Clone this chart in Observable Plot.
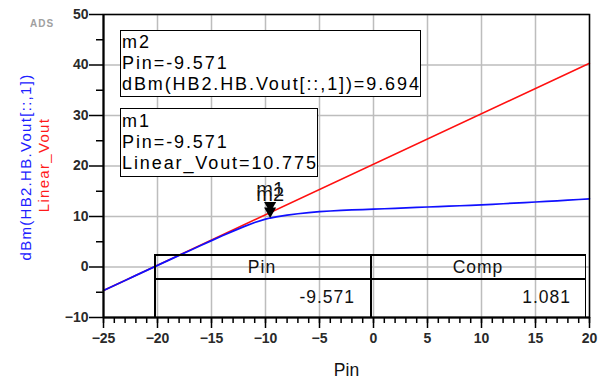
<!DOCTYPE html>
<html>
<head>
<meta charset="utf-8">
<script src="https://cdn.jsdelivr.net/npm/d3@7"></script>
<script src="https://cdn.jsdelivr.net/npm/@observablehq/plot@0.6"></script>
<style>
  html, body { margin: 0; padding: 0; background: #fff; }
  #wrap { position: relative; width: 600px; height: 383px; overflow: hidden; font-family: Arial, "Liberation Sans", sans-serif; }
  #wrap svg { position: absolute; left: 0; top: 0; }
  .box { position: absolute; box-sizing: border-box; border: 1.5px solid #000; background: #fff; font-size: 18px; line-height: 21px; letter-spacing: 1.9px; color: #000; padding-left: 1px; white-space: nowrap; }
  .tline { position: absolute; background: #000; }
  .tcell { position: absolute; font-size: 17.5px; letter-spacing: 1px; color: #111; white-space: nowrap; line-height: 1; }
  .ylab { position: absolute; transform: translate(-50%, -50%) rotate(-90deg); font-size: 15px; letter-spacing: 1.3px; line-height: 1; white-space: nowrap; }
  #ads { position: absolute; left: 30px; top: 18px; font-size: 10px; font-weight: bold; color: #a0a0a0; letter-spacing: 1px; }
</style>
</head>
<body>
<div id="wrap"></div>
<script>
// ---- data ----
const pin = [-25,-24,-23,-22,-21,-20,-19,-18,-17,-16,-15,-14,-13,-12,-11,-10,-9.571,-9,-8,-7,-6,-5,-4,-3,-2,-1,0,1,2,3,4,5,6,7,8,9,10,11,12,13,14,15,16,17,18,19,20];
const voutDbm = [-4.65,-3.65,-2.66,-1.66,-0.67,0.32,1.31,2.30,3.28,4.25,5.22,6.17,7.10,7.99,8.80,9.48,9.694,9.93,10.28,10.55,10.77,10.95,11.09,11.21,11.31,11.38,11.45,11.53,11.62,11.70,11.79,11.88,11.96,12.05,12.13,12.21,12.30,12.41,12.53,12.64,12.76,12.87,12.99,13.11,13.24,13.37,13.50];
const linPin = [-25, 20];
const linearVout = [-4.654, 40.346];
const markerNames = ["m1", "m2"];
const markerPin = [-9.571, -9.571];
const markerVal = [10.775, 9.694];
const xMajor = [-25,-20,-15,-10,-5,0,5,10,15,20];
const xMinor = d3.range(-25, 21, 1);
const yMajor = [-10,0,10,20,30,40,50];
const yMinor = [-5,5,15,25,35,45];
const tableHeaders = ["Pin", "Comp"];
const tableValues = ["-9.571", "1.081"];

const blue = pin.map((p, i) => ({x: p, y: voutDbm[i]}));
const red = linPin.map((p, i) => ({x: p, y: linearVout[i]}));
const markers = markerNames.map((n, i) => ({name: n, x: markerPin[i], y: markerVal[i]}));

const chart = Plot.plot({
  width: 600,
  height: 383,
  marginLeft: 103,
  marginRight: 11,
  marginTop: 14,
  marginBottom: 66,
  style: {fontFamily: "Arial, 'Liberation Sans', sans-serif", color: "#222", background: "transparent", overflow: "visible"},
  x: {domain: [-25, 20]},
  y: {domain: [-10, 50]},
  marks: [
    Plot.gridX(xMajor, {stroke: "#bdbdbd", strokeOpacity: 1, strokeWidth: 1.5}),
    Plot.gridY(yMajor, {stroke: "#bdbdbd", strokeOpacity: 1, strokeWidth: 1.5}),
    Plot.axisX(xMinor, {tickSize: 6, text: null, label: null, strokeWidth: 1.5, stroke: "#000"}),
    Plot.axisX(xMajor, {tickSize: 11, tickPadding: 5, label: null, strokeWidth: 1.5, stroke: "#000", fontSize: 14, fontWeight: "bold", fill: "#2a2a2a"}),
    Plot.axisY(yMinor, {tickSize: 7, text: null, label: null, strokeWidth: 1.5, stroke: "#000"}),
    Plot.axisY(yMajor, {tickSize: 14, tickPadding: 1, label: null, strokeWidth: 1.5, stroke: "#000", fontSize: 14, fontWeight: "bold", fill: "#2a2a2a"}),
    Plot.line(red, {x: "x", y: "y", stroke: "#ff1010", strokeWidth: 1.5}),
    Plot.line(blue, {x: "x", y: "y", stroke: "#1010ff", strokeWidth: 1.7}),
    Plot.frame({stroke: "#000", strokeWidth: 1.5}),
    Plot.ruleX([-25], {stroke: "#000", strokeWidth: 2}),
    Plot.ruleY([-10], {stroke: "#000", strokeWidth: 2}),
    Plot.dot(markers, {x: "x", y: "y", symbol: "triangle", rotate: 180, r: 4.5, dy: -7, fill: "#000", stroke: "none"}),
    Plot.text(markers, {x: "x", y: "y", text: "name", dy: -23, fontSize: 20, fill: "#111", stroke: "#fff", strokeWidth: 0.5}),
    Plot.text(["Pin"], {frameAnchor: "bottom", dy: 58, fontSize: 17.5, fill: "#111"})
  ]
});

const wrap = document.getElementById("wrap");
wrap.appendChild(chart);

function addDiv(cls, css, text) {
  const d = document.createElement("div");
  if (cls) d.className = cls;
  Object.assign(d.style, css);
  if (text != null) d.textContent = text;
  wrap.appendChild(d);
  return d;
}

addDiv("", {}, "ADS").id = "ads";

// y-axis titles
addDiv("ylab", {left: "25px", top: "167px", color: "#2020ff"}, "dBm(HB2.HB.Vout[::,1])");
addDiv("ylab", {left: "43px", top: "165px", color: "#ff1a1a"}, "Linear_Vout");

// marker readout boxes
const b2 = addDiv("box", {left: "120px", top: "30px", width: "301px", height: "67px", paddingTop: "1px"});
b2.innerHTML = `${markers[1].name}<br>Pin=${markers[1].x}<br>dBm(HB2.HB.Vout[::,1])=${markers[1].y}`;
const b1 = addDiv("box", {left: "120px", top: "108px", width: "198px", height: "69px", paddingTop: "2px"});
b1.innerHTML = `${markers[0].name}<br>Pin=${markers[0].x}<br>Linear_Vout=${markers[0].y}`;

// equation table
const T = {l: 154, t: 254, r: 586, b: 317, c: 370, m: 278};
addDiv("tline", {left: T.l + "px", top: T.t + "px", width: (T.r - T.l) + "px", height: "1.5px"});
addDiv("tline", {left: T.l + "px", top: T.m + "px", width: (T.r - T.l) + "px", height: "1.5px"});
addDiv("tline", {left: T.l + "px", top: T.t + "px", width: "1.5px", height: (T.b - T.t) + "px"});
addDiv("tline", {left: T.c + "px", top: T.t + "px", width: "1.5px", height: (T.b - T.t) + "px"});
addDiv("tline", {left: (T.r - 1.5) + "px", top: T.t + "px", width: "1.5px", height: (T.b - T.t) + "px"});
addDiv("tcell", {left: T.l + "px", width: (T.c - T.l) + "px", top: "259px", textAlign: "center"}, tableHeaders[0]);
addDiv("tcell", {left: T.c + "px", width: (T.r - T.c) + "px", top: "259px", textAlign: "center"}, tableHeaders[1]);
addDiv("tcell", {left: T.l + "px", width: (T.c - T.l - 15) + "px", top: "289px", textAlign: "right"}, tableValues[0]);
addDiv("tcell", {left: T.c + "px", width: (T.r - T.c - 15) + "px", top: "289px", textAlign: "right"}, tableValues[1]);
</script>
</body>
</html>
